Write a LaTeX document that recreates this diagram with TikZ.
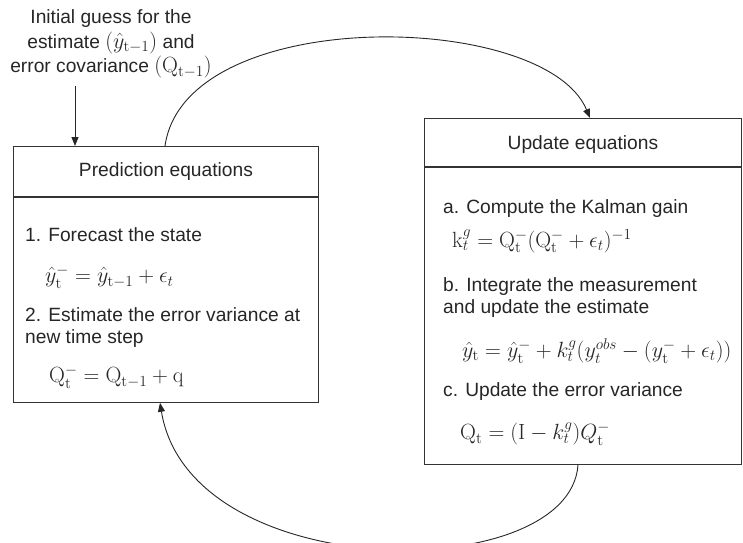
\RequirePackage{fix-cm}
\documentclass[tikz,border=0pt]{standalone}
\usepackage[no-math]{fontspec}
\setmainfont{Liberation Sans}
\usetikzlibrary{arrows.meta,calc}
\newcommand{\bigmath}[1]{{\fontsize{22}{22}\selectfont$#1$}}
\begin{document}
\begin{tikzpicture}[x=1pt,y=-1pt,
 txt/.style={font=\fontsize{19.2}{22}\selectfont, text=black!85, inner sep=0pt},
 eqn/.style={font=\fontsize{22}{22}\selectfont, text=black!85, inner sep=0pt, anchor=west},
 boxpart/.style={draw=black!80, line width=0.9pt, inner sep=0pt, anchor=north west},
 conn/.style={draw=black!85, line width=0.9pt, -{Triangle[length=9pt,width=7pt]}},
]
\useasboundingbox (0,0) rectangle (743,542);
% prediction box
\node[boxpart, minimum width=305pt, minimum height=50pt] (predhead) at (13,146) {};
\node[boxpart, minimum width=305pt, minimum height=205pt] (predbody) at (predhead.south west) {};
\node[txt] (predtitle) at (predhead.center) {Prediction equations};
\node[txt, anchor=west] (p1) at (25,235) {1. Forecast the state};
\node[eqn] (pe1) at (45,277) {$\hat{y}_{\mathrm{t}}^{-} = \hat{y}_{\mathrm{t}-1} + \epsilon_t$};
\node[txt, anchor=west, align=left] (p2) at (25,328) {2. Estimate the error variance at\\new time step};
\node[eqn] (pe2) at (49,377) {$\mathrm{Q}_{\mathrm{t}}^{-} = \mathrm{Q}_{\mathrm{t}-1} + \mathrm{q}$};
% update box
\node[boxpart, minimum width=317pt, minimum height=48pt] (updhead) at (424,118) {};
\node[boxpart, minimum width=317pt, minimum height=297pt] (updbody) at (updhead.south west) {};
\node[txt] (updtitle) at ([yshift=-2pt]updhead.center) {Update equations};
\node[txt, anchor=west] (ua) at (443,209) {a. Compute the Kalman gain};
\node[eqn] (uea) at (452,241) {$\mathrm{k}_t^{g} = \mathrm{Q}_{\mathrm{t}}^{-}(\mathrm{Q}_{\mathrm{t}}^{-} + \epsilon_t)^{-1}$};
\node[txt, anchor=west, align=left] (ub) at (443,298) {b. Integrate the measurement\\and update the estimate};
\node[eqn] (ueb) at (462,351) {$\hat{y}_{\mathrm{t}} = \hat{y}_{\mathrm{t}}^{-} + k_t^{g}(y_t^{obs} - (y_{\mathrm{t}}^{-} + \epsilon_t)\big)$};
\node[txt, anchor=west] (uc) at (443,392) {c. Update the error variance};
\node[eqn] (uec) at (460,434) {$\mathrm{Q}_{\mathrm{t}} = (\mathrm{I} - k_t^{g})Q_{\mathrm{t}}^{-}$};
% initial guess
\node[txt, align=center, font=\fontsize{19.2}{24.5}\selectfont] (init) at (111,44) {Initial guess for the\\estimate \bigmath{(\hat{y}_{\mathrm{t}-1})} and\\error covariance \bigmath{(\mathrm{Q}_{\mathrm{t}-1})}};
% connectors
\draw[conn] ([xshift=-36pt,yshift=-8pt]init.south) -- ([xshift=-36pt]init.south |- predhead.north);
\draw[conn] ([xshift=152pt]predhead.north west) .. controls (185,4) and (545,10) .. ([xshift=166pt]updhead.north west);
\draw[conn] ([xshift=154pt]updbody.south west) .. controls (570,586) and (190,586) .. ([xshift=147pt]predbody.south west);
\end{tikzpicture}
\end{document}
